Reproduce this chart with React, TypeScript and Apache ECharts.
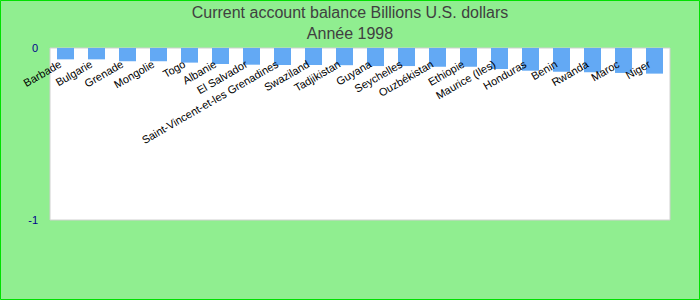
import React, { useEffect, useRef } from "react";
import * as echarts from "echarts";

const categories = [
  "Barbade", "Bulgarie", "Grenade", "Mongolie", "Togo", "Albanie", "El Salvador",
  "Saint-Vincent-et-les Grenadines", "Swaziland", "Tadjikistan", "Guyana", "Seychelles",
  "Ouzbékistan", "Ethiopie", "Maurice (Iles)", "Honduras", "Benin", "Rwanda", "Maroc", "Niger",
];
const values = [
  -0.066, -0.066, -0.077, -0.077, -0.085, -0.093, -0.097, -0.099, -0.099, -0.1,
  -0.105, -0.105, -0.109, -0.109, -0.122, -0.132, -0.138, -0.141, -0.145, -0.149,
];
const titleLines = ["Current account balance Billions U.S. dollars", "Année 1998"];

export default function App() {
  const ref = useRef<HTMLDivElement>(null);
  useEffect(() => {
    if (!ref.current) return;
    const chart = echarts.init(ref.current, undefined, { renderer: "svg" });
    chart.setOption({
      animation: false,
      backgroundColor: "#90EE90",
      title: {
        text: titleLines.join("\n"),
        left: "center",
        top: -3,
        textStyle: {
          fontFamily: "'Liberation Sans', Arial, sans-serif",
          fontSize: 16,
          lineHeight: 21,
          fontWeight: "normal",
          color: "#404040",
        },
      },
      graphic: [
        {
          type: "rect",
          shape: { x: 0.5, y: 0.5, width: 699, height: 299 },
          style: { fill: "none", stroke: "#00E000", lineWidth: 1 },
          silent: true,
        },
      ],
      grid: {
        left: 50,
        right: 30,
        top: 48,
        bottom: 80,
        outerBoundsMode: "none",
        containLabel: false,
        show: true,
        backgroundColor: "#ffffff",
        borderColor: "#d0d0d0",
        borderWidth: 1,
      },
      xAxis: {
        type: "category",
        data: categories,
        position: "top",
        z: 10,
        axisLine: { show: false, onZero: false },
        axisTick: { show: false },
        axisLabel: {
          inside: true,
          interval: 0,
          rotate: -30,
          margin: 12,
          padding: [0, 6, 0, 0],
          fontSize: 11,
          fontFamily: "'Liberation Sans', Arial, sans-serif",
          color: "#000000",
        },
      },
      yAxis: {
        type: "value",
        min: -1,
        max: 0,
        interval: 1,
        splitLine: { show: false },
        axisLine: { show: false },
        axisTick: { show: false },
        axisLabel: {
          margin: 12,
          fontSize: 11,
          fontFamily: "'Liberation Sans', Arial, sans-serif",
          color: "#00008B",
        },
      },
      series: [
        {
          type: "bar",
          data: values,
          barWidth: 17,
          itemStyle: { color: "#63A9F4" },
          z: 1,
        },
      ],
    });
    return () => chart.dispose();
  }, []);
  return (
    <div
      ref={ref}
      style={{ position: "fixed", left: 0, top: 0, width: 700, height: 300 }}
    />
  );
}
